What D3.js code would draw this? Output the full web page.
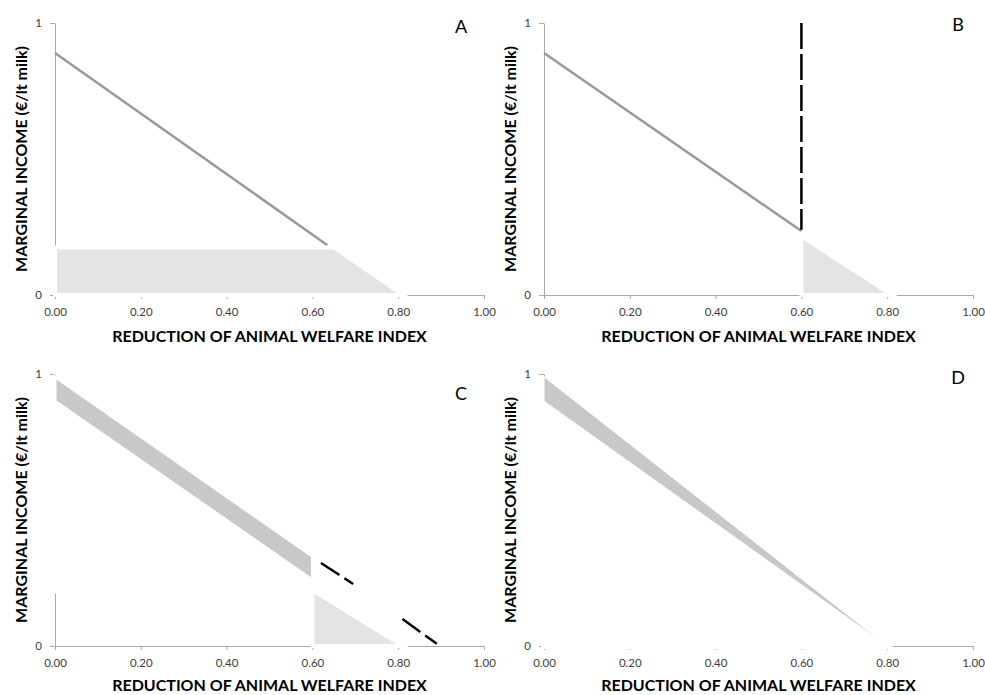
<!DOCTYPE html>
<html>
<head>
<meta charset="utf-8">
<script src="https://cdn.jsdelivr.net/npm/d3@7"></script>
<style>
  body { margin: 0; background: #fff; }
  text { font-family: Lato, "Open Sans", sans-serif; }
</style>
</head>
<body>
<div id="chart"></div>
<script>
// axis ticks
var xTicks = [0, 0.2, 0.4, 0.6, 0.8, 1.0];
var yTicks = [0, 1];
var xTitle = "REDUCTION OF ANIMAL WELFARE INDEX";
var yTitle = "MARGINAL INCOME (€/lt milk)";

// A: marginal income line + shaded trapezoid
var lineA = [{x: 0, y: 0.89}, {x: 0.635, y: 0.183}];
var areaA = [{x: 0, y: 0.175}, {x: 0.650, y: 0.175}, {x: 0.812, y: 0}];

// B: line, vertical dashed cap at 0.60, shaded triangle
var lineB = [{x: 0, y: 0.89}, {x: 0.60, y: 0.235}];
var dashB = [{x: 0.60, y: 1}, {x: 0.60, y: 0.24}];
var areaB = [{x: 0.60, y: 0.215}, {x: 0.812, y: 0}];

// C: band, triangle, dashed continuation (hidden between 0.695 and 0.81)
var bandC = [{x: 0, lo: 0.90, hi: 0.99}, {x: 0.60, lo: 0.243, hi: 0.33}];
var floorC = 0.20;
var areaC = [{x: 0.60, y: 0.205}, {x: 0.812, y: 0}];
var dashC = [{x: 0.62, y: 0.305}, {x: 0.695, y: 0.228}, null, {x: 0.81, y: 0.099}, {x: 0.89, y: 0.008}];

// D: band narrowing to zero at 0.80
var bandD = [{x: 0, lo: 0.90, hi: 0.99}, {x: 0.80, lo: 0, hi: 0}];

var W = 985, H = 695;
var svg = d3.select("#chart").append("svg").attr("width", W).attr("height", H);

var panels = [
  {name: "A", left: 55, bottom: 295, lx: 461, ly: 28, ty: 342},
  {name: "B", left: 544, bottom: 295, lx: 958, ly: 26, ty: 342},
  {name: "C", left: 55, bottom: 646, lx: 461, ly: 395, ty: 691},
  {name: "D", left: 544, bottom: 646, lx: 958, ly: 379, ty: 691}
];

var axisColor = "#aaaaaa";
var lineColor = "#999999";
var lightFill = "#e4e4e4";
var bandFill = "#c8c8c8";

panels.forEach(function(p) {
  var g = svg.append("g");
  var x = d3.scaleLinear().domain([0, 1]).range([p.left, p.left + 429]);
  var y = d3.scaleLinear().domain([0, 1]).range([p.bottom, p.bottom - 272]);
  p.x = x; p.y = y; p.g = g;

  var xa = g.append("g")
    .attr("transform", "translate(0," + y(0) + ")")
    .call(d3.axisBottom(x).tickValues(xTicks).tickFormat(d3.format(".2f"))
      .tickSizeInner(4).tickSizeOuter(0).tickPadding(9));
  var ya = g.append("g")
    .attr("transform", "translate(" + x(0) + ",0)")
    .call(d3.axisLeft(y).tickValues(yTicks).tickFormat(d3.format("d"))
      .tickSizeInner(5).tickSizeOuter(0).tickPadding(8));
  [xa, ya].forEach(function(a) {
    a.select(".domain").attr("stroke", axisColor);
    a.selectAll(".tick line").attr("stroke", axisColor);
    a.selectAll(".tick text").attr("fill", "#404040").style("font-size", "11.5px");
  });

  g.append("text")
    .attr("x", x(0.5)).attr("y", p.ty)
    .attr("text-anchor", "middle")
    .style("font-size", "16px").style("font-weight", "bold").attr("fill", "#000")
    .text(xTitle);
  g.append("text")
    .attr("transform", "translate(" + (p.left - 28) + "," + y(0.5) + ") rotate(-90)")
    .attr("text-anchor", "middle")
    .style("font-size", "16px").style("font-weight", "bold").attr("fill", "#000")
    .text(yTitle);
  g.append("text")
    .attr("x", p.lx).attr("y", p.ly)
    .attr("text-anchor", "middle").attr("dominant-baseline", "middle")
    .style("font-size", "18px").attr("fill", "#000")
    .text(p.name);
});

function line(p) {
  return d3.line().defined(function(d) { return d; })
    .x(function(d) { return p.x(d.x); }).y(function(d) { return p.y(d.y); });
}
function area(p) {
  return d3.area().x(function(d) { return p.x(d.x); })
    .y0(p.y(0)).y1(function(d) { return p.y(d.y); });
}
function band(p) {
  return d3.area().x(function(d) { return p.x(d.x); })
    .y0(function(d) { return p.y(d.lo); }).y1(function(d) { return p.y(d.hi); });
}

// A
var pa = panels[0];
pa.g.append("path").datum(lineA).attr("d", line(pa))
  .attr("fill", "none").attr("stroke", lineColor).attr("stroke-width", 2.5);
pa.g.append("path").datum(areaA).attr("d", area(pa))
  .attr("fill", lightFill).attr("stroke", "#fff").attr("stroke-width", 4);

// B
var pb = panels[1];
pb.g.append("path").datum(lineB).attr("d", line(pb))
  .attr("fill", "none").attr("stroke", lineColor).attr("stroke-width", 2.5);
pb.g.append("path").datum(dashB).attr("d", line(pb))
  .attr("fill", "none").attr("stroke", "#000").attr("stroke-width", 2.5)
  .attr("stroke-dasharray", "26,5");
pb.g.append("path").datum(areaB).attr("d", area(pb))
  .attr("fill", lightFill).attr("stroke", "#fff").attr("stroke-width", 4);

// C
var pc = panels[2];
pc.g.append("path").datum(bandC)
  .attr("d", d3.area().x(function(d) { return pc.x(d.x); })
    .y0(pc.y(floorC)).y1(function(d) { return pc.y(d.lo); }))
  .attr("fill", "#fff").attr("stroke", "#fff").attr("stroke-width", 4);
pc.g.append("path").datum(dashC).attr("d", line(pc))
  .attr("fill", "none").attr("stroke", "#000").attr("stroke-width", 2.5)
  .attr("stroke-dasharray", "22,6");
pc.g.append("path").datum(bandC).attr("d", band(pc))
  .attr("fill", bandFill).attr("stroke", "#fff").attr("stroke-width", 3);
pc.g.append("path").datum(areaC).attr("d", area(pc))
  .attr("fill", lightFill).attr("stroke", "#fff").attr("stroke-width", 4);

// D
var pd = panels[3];
pd.g.append("path").datum(bandD)
  .attr("d", d3.area().x(function(d) { return pd.x(d.x); })
    .y0(pd.y(0)).y1(function(d) { return pd.y(d.lo); }))
  .attr("fill", "#fff").attr("stroke", "#fff").attr("stroke-width", 6);
pd.g.append("path").datum(bandD).attr("d", band(pd))
  .attr("fill", bandFill).attr("stroke", "#fff").attr("stroke-width", 1);
</script>
</body>
</html>
